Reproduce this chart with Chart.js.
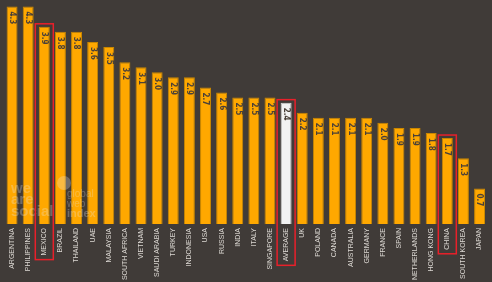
<!DOCTYPE html>
<html><head><meta charset="utf-8">
<script src="https://cdn.jsdelivr.net/npm/chart.js@4"></script>
<style>html,body{margin:0;padding:0;background:#403b38;}#wrap{width:492px;height:282px;position:relative;}</style>
</head><body><div id="wrap"><canvas id="c" width="492" height="282"></canvas></div>
<script>
const categories = ["ARGENTINA","PHILIPPINES","MEXICO","BRAZIL","THAILAND","UAE","MALAYSIA","SOUTH AFRICA","VIETNAM","SAUDI ARABIA","TURKEY","INDONESIA","USA","RUSSIA","INDIA","ITALY","SINGAPORE","AVERAGE","UK","POLAND","CANADA","AUSTRALIA","GERMANY","FRANCE","SPAIN","NETHERLANDS","HONG KONG","CHINA","SOUTH KOREA","JAPAN"];
const values = [4.3,4.3,3.9,3.8,3.8,3.6,3.5,3.2,3.1,3.0,2.9,2.9,2.7,2.6,2.5,2.5,2.5,2.4,2.2,2.1,2.1,2.1,2.1,2.0,1.9,1.9,1.8,1.7,1.3,0.7];
const highlighted = ["MEXICO","AVERAGE","CHINA"];
const whiteBar = "AVERAGE";

const fill = categories.map(c => c === whiteBar ? "#f2f2f2" : "#ffa800");
const border = categories.map(c => c === whiteBar ? "#d8d8d8" : "#c98700");

const valueLabels = {
  id: "valueLabels",
  afterDatasetsDraw(chart) {
    const ctx = chart.ctx;
    const meta = chart.getDatasetMeta(0);
    ctx.save();
    ctx.font = "bold 8px 'Liberation Sans Narrow', 'DejaVu Sans Condensed', sans-serif";
    ctx.fillStyle = "#4a4038";
    ctx.textAlign = "left";
    ctx.textBaseline = "middle";
    meta.data.forEach((bar, i) => {
      ctx.save();
      ctx.translate(bar.x, bar.y + 5);
      ctx.rotate(Math.PI / 2);
      ctx.fillText(values[i].toFixed(1), 0, 0);
      ctx.restore();
    });
    ctx.restore();
  }
};

const boxes = {
  id: "boxes",
  afterDraw(chart) {
    const ctx = chart.ctx;
    const x = chart.scales.x, y = chart.scales.y;
    ctx.save();
    ctx.font = "7px 'Liberation Sans', Arial, sans-serif";
    ctx.strokeStyle = "#e8202a";
    ctx.lineWidth = 1.5;
    highlighted.forEach(name => {
      const i = categories.indexOf(name);
      const cx = x.getPixelForValue(i);
      const top = y.getPixelForValue(values[i]) - 3;
      const w = ctx.measureText(name).width;
      const bottom = chart.chartArea.bottom + 4 + w + 4;
      ctx.strokeRect(cx - 9, top, 18, bottom - top);
    });
    ctx.restore();
  }
};

const watermark = {
  id: "watermark",
  afterDatasetsDraw(chart) {
    const ctx = chart.ctx;
    ctx.save();
    ctx.fillStyle = "rgba(235,235,235,0.28)";
    ctx.font = "bold 15px 'Liberation Sans', Arial, sans-serif";
    ctx.textBaseline = "alphabetic";
    ctx.fillText("we", 11, 193);
    ctx.fillText("are", 11, 204);
    ctx.fillText("social", 11, 216);
    ctx.font = "10px 'Liberation Sans', Arial, sans-serif";
    ctx.fillText("global", 67, 197);
    ctx.fillText("web", 67, 207);
    ctx.font = "bold 11px 'Liberation Sans', Arial, sans-serif";
    ctx.fillText("index", 67, 217);
    ctx.beginPath();
    ctx.arc(64, 183, 7, 0, Math.PI * 2);
    ctx.fill();
    ctx.restore();
  }
};

new Chart(document.getElementById("c"), {
  type: "bar",
  data: {
    labels: categories,
    datasets: [{
      data: values,
      backgroundColor: fill,
      borderColor: border,
      borderWidth: 1,
      borderSkipped: "bottom",
      barPercentage: 0.68,
      categoryPercentage: 1.0
    }]
  },
  options: {
    responsive: false,
    animation: false,
    devicePixelRatio: 1,
    layout: { padding: { left: 4, right: 3, top: 0, bottom: 0 } },
    plugins: { legend: { display: false }, tooltip: { enabled: false } },
    scales: {
      x: {
        offset: true,
        grid: { display: false, drawTicks: false },
        border: { display: false },
        ticks: {
          color: "#dcd8d3",
          font: { size: 7, family: "'Liberation Sans', Arial, sans-serif" },
          minRotation: 90, maxRotation: 90,
          padding: 4,
          autoSkip: false
        },
        afterFit(s) { s.height = 58; }
      },
      y: {
        display: false,
        min: 0, max: 4.43
      }
    }
  },
  plugins: [watermark, valueLabels, boxes]
});
</script>
</body></html>
